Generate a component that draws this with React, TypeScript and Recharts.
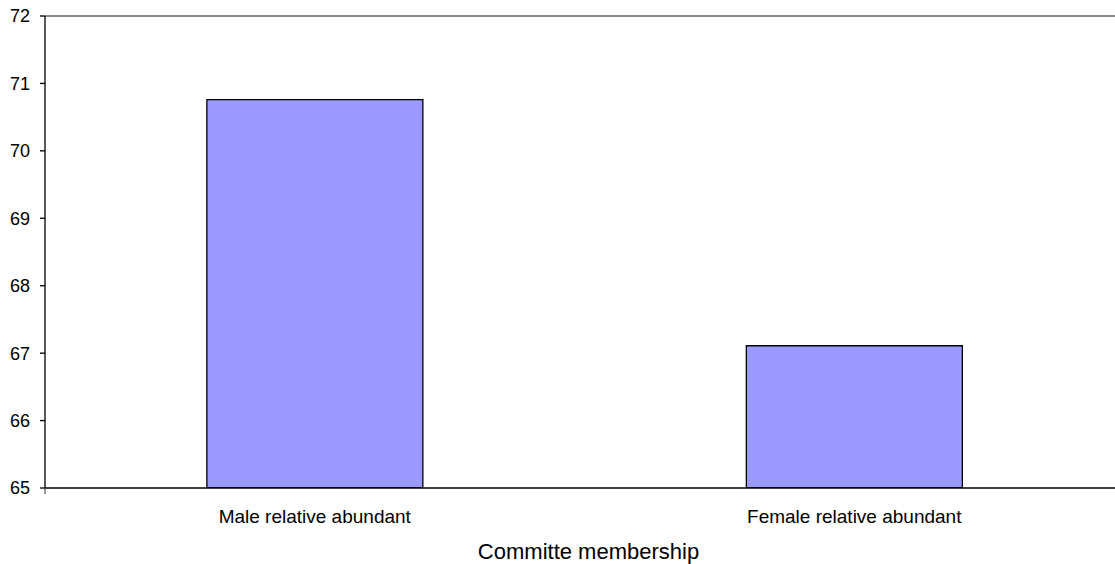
import React from "react";
import { BarChart, Bar, XAxis, YAxis, ReferenceLine } from "recharts";

const categories = ["Male relative abundant", "Female relative abundant"];
const values = [70.76, 67.11];
const yTicks = [65, 66, 67, 68, 69, 70, 71, 72];
const edgeTicks = [0, 1, 2];
const axisTitle = "Committe membership";

const data = categories.map((c, i) => ({ name: c, value: values[i] }));

const FONT = "'Liberation Sans', Arial, sans-serif";

export default function App() {
  return (
    <div
      style={{
        position: "absolute",
        left: 0,
        top: 0,
        width: 1115,
        height: 564,
        overflow: "hidden",
        background: "#fff",
      }}
    >
      <BarChart
        width={1124}
        height={564}
        data={data}
        margin={{ top: 16, right: 0, bottom: 0, left: 0 }}
        barCategoryGap="30%"
      >
        <XAxis
          xAxisId="b"
          dataKey="name"
          height={70}
          axisLine={false}
          tickLine={false}
          tickSize={0}
          tickMargin={16}
          tick={{ fill: "#000", fontSize: 19, fontFamily: FONT }}
          label={(props: any) => {
            const vb = props.viewBox || {};
            return (
              <text
                x={vb.x + vb.width / 2 + 4}
                y={vb.y + vb.height - 5}
                textAnchor="middle"
                fill="#000"
                fontSize={22}
                fontFamily={FONT}
              >
                {axisTitle}
              </text>
            );
          }}
        />
        <XAxis
          xAxisId="a"
          type="number"
          domain={[0, 2]}
          ticks={edgeTicks}
          tick={() => <g />}
          tickSize={6}
          height={6}
          axisLine={{ stroke: "#000", strokeWidth: 1.3 }}
          tickLine={{ stroke: "#666", strokeWidth: 1.3 }}
        />
        <YAxis
          domain={[65, 72]}
          ticks={yTicks}
          width={45}
          tickSize={5}
          tickMargin={10}
          interval={0}
          allowDataOverflow
          axisLine={{ stroke: "#000", strokeWidth: 1.3 }}
          tickLine={{ stroke: "#000", strokeWidth: 1.3 }}
          tick={{ fill: "#000", fontSize: 18, fontFamily: FONT }}
        />
        <ReferenceLine xAxisId="b" y={72} stroke="#8a8a8a" strokeWidth={2} />
        <Bar
          xAxisId="b"
          dataKey="value"
          fill="#9999FF"
          stroke="#000"
          strokeWidth={1.3}
          isAnimationActive={false}
        />
      </BarChart>
    </div>
  );
}
